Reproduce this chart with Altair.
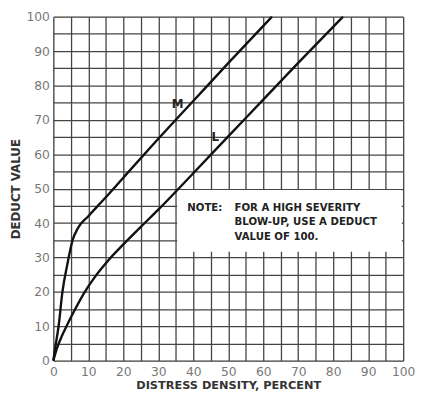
import altair as alt
import pandas as pd

# Curve M (medium severity)
m_x = [0, 0.5, 1.5, 2.6, 4.0, 5.5, 7.0, 10, 15, 20, 30, 40, 50, 62.5]
m_y = [0, 3.5, 10, 20, 28, 35, 38.5, 42, 47.5, 53.2, 64.5, 75.5, 86.5, 100]
# Curve L (low severity)
l_x = [0, 1, 2.5, 4, 6, 8.7, 12, 16, 20, 25, 30, 40, 50, 60, 70, 82.8]
l_y = [0, 3.5, 7.3, 10.5, 14.5, 19.5, 24.5, 29.5, 33.8, 38.9, 43.9, 54.5, 65.2, 75.9, 86.6, 100]

curve_labels = ["M", "L"]
label_x = [35.5, 46.3]
label_y = [74.6, 64.9]

note_lines = ["FOR A HIGH SEVERITY", "BLOW-UP, USE A DEDUCT", "VALUE OF 100."]
note_x = 51.8
note_y = [44.3, 40.2, 36.0]

grid_vals = list(range(0, 101, 5))

df = pd.concat([
    pd.DataFrame({"x": m_x, "y": m_y, "curve": "M"}),
    pd.DataFrame({"x": l_x, "y": l_y, "curve": "L"}),
])

xs = alt.Scale(domain=[0, 100], nice=False, zero=False)
ys = alt.Scale(domain=[0, 100], nice=False, zero=False)

lab_expr = "datum.value % 10 == 0 ? datum.label : ''"

base_axis = dict(
    values=grid_vals, labelExpr=lab_expr, ticks=False, grid=True,
    gridColor="#444", gridWidth=1.3, domain=False, labelFlush=False,
    labelFont="DejaVu Sans", labelFontSize=12.5, labelColor="#777",
    titleFont="DejaVu Sans", titleFontWeight="bold",
    titleColor="#333",
)
x_axis = alt.Axis(title="DISTRESS DENSITY, PERCENT", labelAngle=0, labelPadding=5,
                  titlePadding=2, titleFontSize=11.5, **base_axis)
y_axis = alt.Axis(title="DEDUCT VALUE", labelPadding=4, titlePadding=3, titleFontSize=12, **base_axis)

box = alt.Chart(pd.DataFrame({"x": [35.4], "x2": [99.6], "y": [31.7], "y2": [49.6]})).mark_rect(
    fill="white"
).encode(x=alt.X("x:Q", scale=xs, axis=x_axis), x2="x2:Q",
         y=alt.Y("y:Q", scale=ys, axis=y_axis), y2="y2:Q")

lines = alt.Chart(df).mark_line(color="#111", strokeWidth=2.4, interpolate="monotone").encode(
    x=alt.X("x:Q", scale=xs, axis=x_axis),
    y=alt.Y("y:Q", scale=ys, axis=y_axis),
    detail="curve:N",
)

labels = alt.Chart(pd.DataFrame({"x": label_x, "y": label_y, "t": curve_labels})).mark_text(
    font="DejaVu Sans", fontSize=12, fontWeight="bold", color="#222"
).encode(x=alt.X("x:Q", scale=xs, axis=x_axis), y=alt.Y("y:Q", scale=ys, axis=y_axis), text="t:N")

note_head = alt.Chart(pd.DataFrame({"x": [38.3], "y": [note_y[0]], "t": ["NOTE:"]})).mark_text(
    font="DejaVu Sans", fontSize=10.3, fontWeight="bold", color="#222", align="left"
).encode(x=alt.X("x:Q", scale=xs, axis=x_axis), y=alt.Y("y:Q", scale=ys, axis=y_axis), text="t:N")

note_body = alt.Chart(pd.DataFrame({"x": [note_x] * 3, "y": note_y, "t": note_lines})).mark_text(
    font="DejaVu Sans", fontSize=10.3, fontWeight="bold", color="#222", align="left"
).encode(x=alt.X("x:Q", scale=xs, axis=x_axis), y=alt.Y("y:Q", scale=ys, axis=y_axis), text="t:N")

chart = alt.layer(box, lines, labels, note_head, note_body).properties(
    width=355, height=349,
    autosize=alt.AutoSizeParams(type="none"),
    padding={"left": 46, "top": 6, "right": 12, "bottom": 32},
).configure_view(stroke="#222", strokeWidth=2).configure(background="white")

chart.save("out.html", embed_options={"renderer": "svg", "actions": False})
